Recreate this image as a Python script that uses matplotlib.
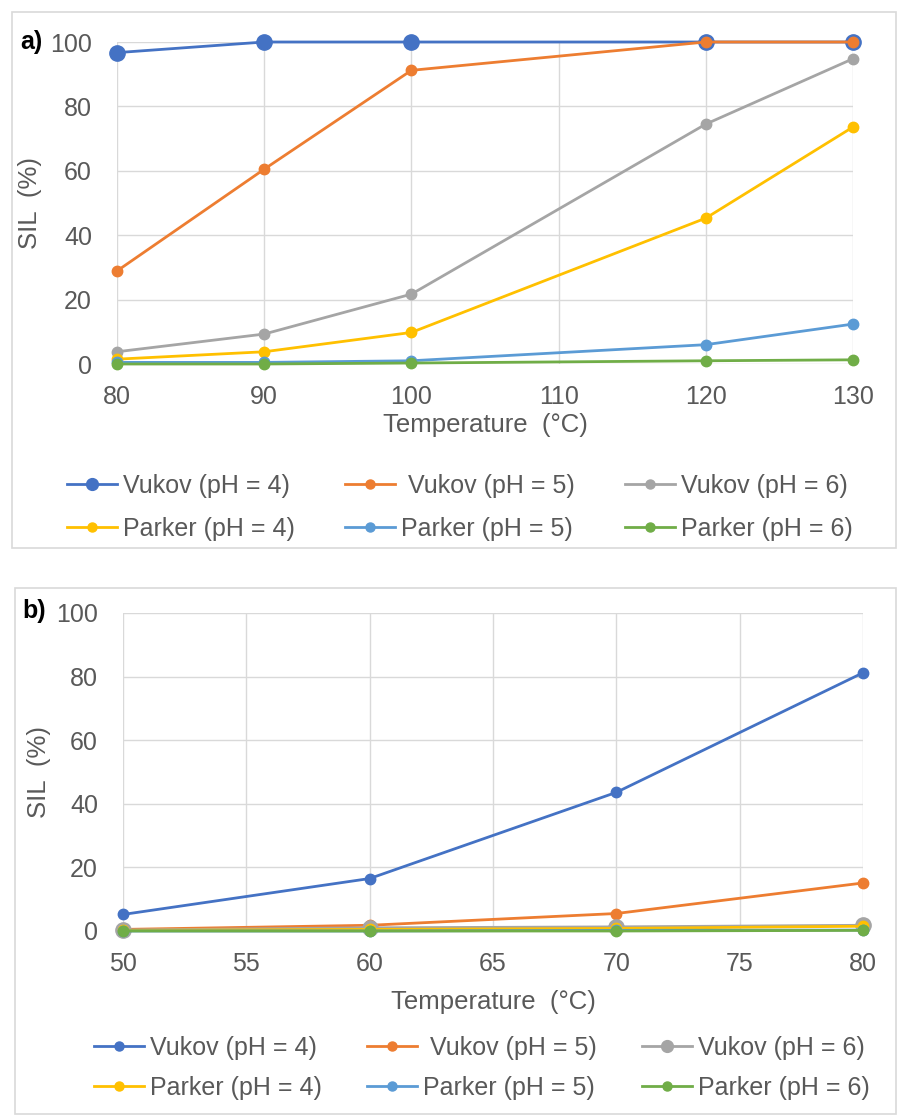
import matplotlib
matplotlib.use("Agg")
import matplotlib.pyplot as plt
from matplotlib.patches import Rectangle

plt.rcParams['font.family'] = ['Liberation Sans', 'DejaVu Sans']

# ---------------- data ----------------
series_labels = ["Vukov (pH = 4)", " Vukov (pH = 5)", "Vukov (pH = 6)",
                 "Parker (pH = 4)", "Parker (pH = 5)", "Parker (pH = 6)"]
series_colors = ["#4472C4", "#ED7D31", "#A5A5A5", "#FFC000", "#5B9BD5", "#70AD47"]

temp_a = [80, 90, 100, 120, 130]
a_vukov_ph4 = [96.7, 100, 100, 100, 100]
a_vukov_ph5 = [28.9, 60.5, 91.2, 100, 100]
a_vukov_ph6 = [3.8, 9.3, 21.7, 74.5, 94.8]
a_parker_ph4 = [1.5, 3.8, 9.8, 45.3, 73.6]
a_parker_ph5 = [0.5, 0.5, 1.0, 6.0, 12.4]
a_parker_ph6 = [0.0, 0.0, 0.3, 1.0, 1.3]

temp_b = [50, 60, 70, 80]
b_vukov_ph4 = [5.2, 16.5, 43.6, 81.2]
b_vukov_ph5 = [0.5, 1.8, 5.5, 15.1]
b_vukov_ph6 = [0.3, 1.0, 1.3, 1.8]
b_parker_ph4 = [0.2, 0.5, 0.8, 1.5]
b_parker_ph5 = [0.0, 0.0, 0.2, 0.3]
b_parker_ph6 = [0.0, 0.0, 0.0, 0.2]

x_ticks_a = [80, 90, 100, 110, 120, 130]
x_ticks_b = [50, 55, 60, 65, 70, 75, 80]
y_ticks = [0, 20, 40, 60, 80, 100]

TXT = "#595959"
GRID = "#D9D9D9"
W, H = 898, 1115

fig = plt.figure(figsize=(W / 100, H / 100), dpi=100)


def fx(px):
    return px / W


def fy(py):
    return 1 - py / H


# panel borders
fig.patches.append(Rectangle((fx(12), fy(548)), fx(896) - fx(12), fy(12) - fy(548),
                             transform=fig.transFigure, fill=False, edgecolor=GRID, lw=1.2))
fig.patches.append(Rectangle((fx(15), fy(1114)), fx(896) - fx(15), fy(588) - fy(1114),
                             transform=fig.transFigure, fill=False, edgecolor=GRID, lw=1.2))


def make_panel(rect, temps, data, big_idx, xticks, letter, letter_xy, legend_xy,
               legend_gap, colspace, xlabelpad, ylabelpad):
    ax = fig.add_axes(rect)
    handles = []
    for i, (vals, lab, col) in enumerate(zip(data, series_labels, series_colors)):
        ms = 11 if i == big_idx else 7.5
        h, = ax.plot(temps, vals, color=col, lw=2.0, marker='o', ms=ms,
                     label=lab, clip_on=False, zorder=3 + i)
        handles.append(h)
    ax.set_xlim(xticks[0], xticks[-1])
    ax.set_ylim(0, 100)
    ax.set_xticks(xticks)
    ax.set_yticks(y_ticks)
    for s in ax.spines.values():
        s.set_visible(False)
    ax.grid(True, color=GRID, lw=1.0, zorder=0)
    ax.set_axisbelow(True)
    ax.tick_params(length=0, labelsize=18, labelcolor=TXT)
    ax.tick_params(axis='y', pad=18)
    ax.tick_params(axis='x', pad=15)
    ax.set_xlabel("Temperature  (°C)", fontsize=18.5, color=TXT, labelpad=xlabelpad)
    ax.set_ylabel("SIL  (%)", fontsize=18.5, color=TXT, labelpad=ylabelpad)
    fig.text(fx(letter_xy[0]), fy(letter_xy[1]), letter, fontsize=18, fontweight='bold',
             color='black', ha='left', va='center')
    order = [0, 3, 1, 4, 2, 5]
    leg = ax.legend([handles[k] for k in order], [series_labels[k] for k in order],
                    ncol=3, loc='upper left', bbox_to_anchor=(fx(legend_xy[0]), fy(legend_xy[1])),
                    bbox_transform=fig.transFigure, frameon=False, fontsize=18,
                    handlelength=2.0, handletextpad=0.25, columnspacing=colspace,
                    labelspacing=legend_gap, borderpad=0, borderaxespad=0,
                    labelcolor=TXT)
    for k, lh in zip(order, leg.legend_handles):
        lh.set_markersize(8.5 if k == big_idx else 6.5)
    return ax


make_panel([fx(117), fy(364), fx(853) - fx(117), fy(42) - fy(364)], temp_a,
           [a_vukov_ph4, a_vukov_ph5, a_vukov_ph6, a_parker_ph4, a_parker_ph5, a_parker_ph6],
           0, x_ticks_a, "a)", (20, 42), (67, 474), 0.75, 2.0, 3, 6)

make_panel([fx(123), fy(931), fx(863) - fx(123), fy(613) - fy(931)], temp_b,
           [b_vukov_ph4, b_vukov_ph5, b_vukov_ph6, b_parker_ph4, b_parker_ph5, b_parker_ph6],
           2, x_ticks_b, "b)", (22, 611), (94, 1036), 0.62, 1.8, 10, 4)

fig.savefig("out.png", dpi=100)
